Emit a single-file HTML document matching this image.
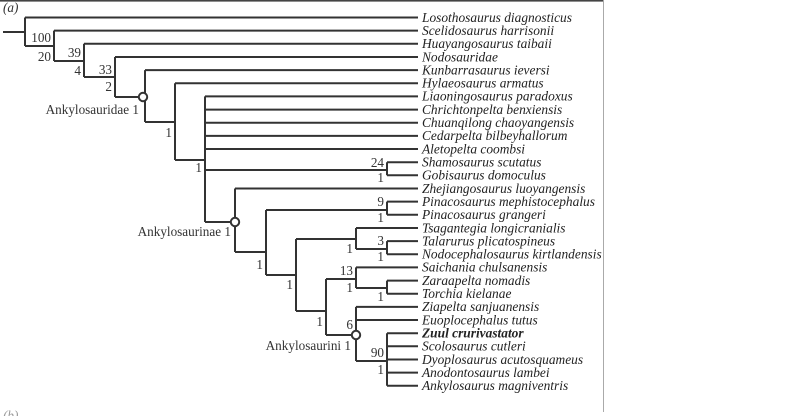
<!DOCTYPE html>
<html><head><meta charset="utf-8"><style>
html,body{margin:0;padding:0;background:#fff;width:800px;height:416px;overflow:hidden}
svg{display:block}
.t{font-family:"Liberation Serif",serif;font-style:italic;font-size:13.4px;fill:#222}
.n{font-family:"Liberation Serif",serif;font-size:13.2px;fill:#333}
</style></head><body>
<svg width="800" height="416" viewBox="0 0 800 416" xmlns="http://www.w3.org/2000/svg">
<rect x="0" y="0" width="604" height="1.6" fill="#444"/>
<line x1="603.5" y1="0" x2="603.5" y2="412" stroke="#aaa" stroke-width="1"/>
<text x="3" y="12" class="n" style="font-style:italic">(a)</text>
<g stroke="#333" stroke-width="2" fill="none">
<path d="M25 17.5H418 M54 30.6H418 M84 43.8H418 M115 57H418 M145 70.1H418 M175 83.3H418
M205 96.4H418 M205 109.6H418 M205 122.7H418 M205 135.9H418 M205 149H418
M387 162.2H418 M387 175.3H418 M235 188.5H418 M387 201.6H418 M387 214.8H418
M356 228H418 M387 241.1H418 M387 254.3H418 M356 267.4H418 M387 280.6H418 M387 293.7H418
M356 306.9H418 M356 320H418 M387 333.2H418 M387 346.3H418 M387 359.5H418 M387 372.6H418 M387 385.8H418"/>
<path d="M3 32H25 M25 17.5V46 M25 46H54 M54 30.6V61 M54 61H84 M84 43.8V77 M84 77H115 M115 57V97 M115 97H139"/>
<path d="M145 70.1V122 M145 122H175 M175 83.3V160 M175 160H205 M205 96.4V222 M205 170H387 M387 162.2V175.3 M205 222H231"/>
<path d="M235 188.5V252 M235 252H266 M266 210V275 M266 210H387 M387 201.6V214.8 M266 275H296 M296 239V311
M296 239H356 M356 228V249 M356 249H387 M387 241.1V254.3 M296 311H326 M326 279V335 M326 279H356 M356 267.4V288 M356 288H387 M387 280.6V293.7
M326 335H352 M356 306.9V361 M356 361H387 M387 333.2V385.8"/>
<circle cx="143" cy="97" r="4.2" fill="#fff"/>
<circle cx="235" cy="222" r="4.2" fill="#fff"/>
<circle cx="356" cy="335" r="4.2" fill="#fff"/>
</g>
<g class="n" text-anchor="end">
<text x="51" y="42">100</text><text x="51" y="61">20</text>
<text x="81" y="57">39</text><text x="81" y="75">4</text>
<text x="112" y="74">33</text><text x="112" y="91">2</text>
<text x="139" y="114">Ankylosauridae 1</text>
<text x="172" y="137">1</text>
<text x="202" y="172">1</text>
<text x="384" y="167">24</text><text x="384" y="182">1</text>
<text x="231" y="236">Ankylosaurinae 1</text>
<text x="263" y="269">1</text>
<text x="384" y="206">9</text><text x="384" y="222">1</text>
<text x="293" y="289">1</text>
<text x="353" y="253">1</text>
<text x="384" y="245">3</text><text x="384" y="261">1</text>
<text x="323" y="326">1</text>
<text x="353" y="275">13</text><text x="353" y="292">1</text>
<text x="384" y="301">1</text>
<text x="353" y="329">6</text>
<text x="351" y="350">Ankylosaurini 1</text>
<text x="384" y="357">90</text><text x="384" y="374">1</text>
</g>
<g class="t">
<text x="422" y="21.8">Losothosaurus diagnosticus</text>
<text x="422" y="34.9">Scelidosaurus harrisonii</text>
<text x="422" y="48.1">Huayangosaurus taibaii</text>
<text x="422" y="61.3">Nodosauridae</text>
<text x="422" y="74.4">Kunbarrasaurus ieversi</text>
<text x="422" y="87.6">Hylaeosaurus armatus</text>
<text x="422" y="100.7">Liaoningosaurus paradoxus</text>
<text x="422" y="113.9">Chrichtonpelta benxiensis</text>
<text x="422" y="127">Chuanqilong chaoyangensis</text>
<text x="422" y="140.2">Cedarpelta bilbeyhallorum</text>
<text x="422" y="153.3">Aletopelta coombsi</text>
<text x="422" y="166.5">Shamosaurus scutatus</text>
<text x="422" y="179.6">Gobisaurus domoculus</text>
<text x="422" y="192.8">Zhejiangosaurus luoyangensis</text>
<text x="422" y="205.9">Pinacosaurus mephistocephalus</text>
<text x="422" y="219.1">Pinacosaurus grangeri</text>
<text x="422" y="232.3">Tsagantegia longicranialis</text>
<text x="422" y="245.4">Talarurus plicatospineus</text>
<text x="422" y="258.6">Nodocephalosaurus kirtlandensis</text>
<text x="422" y="271.7">Saichania chulsanensis</text>
<text x="422" y="284.9">Zaraapelta nomadis</text>
<text x="422" y="298">Torchia kielanae</text>
<text x="422" y="311.2">Ziapelta sanjuanensis</text>
<text x="422" y="324.3">Euoplocephalus tutus</text>
<text x="422" y="337.5" style="font-weight:bold">Zuul crurivastator</text>
<text x="422" y="350.6">Scolosaurus cutleri</text>
<text x="422" y="363.8">Dyoplosaurus acutosquameus</text>
<text x="422" y="376.9">Anodontosaurus lambei</text>
<text x="422" y="390.1">Ankylosaurus magniventris</text>
</g>
<text x="3" y="420" class="n" style="font-style:italic;fill:#999">(b)</text>
</svg>
</body></html>
